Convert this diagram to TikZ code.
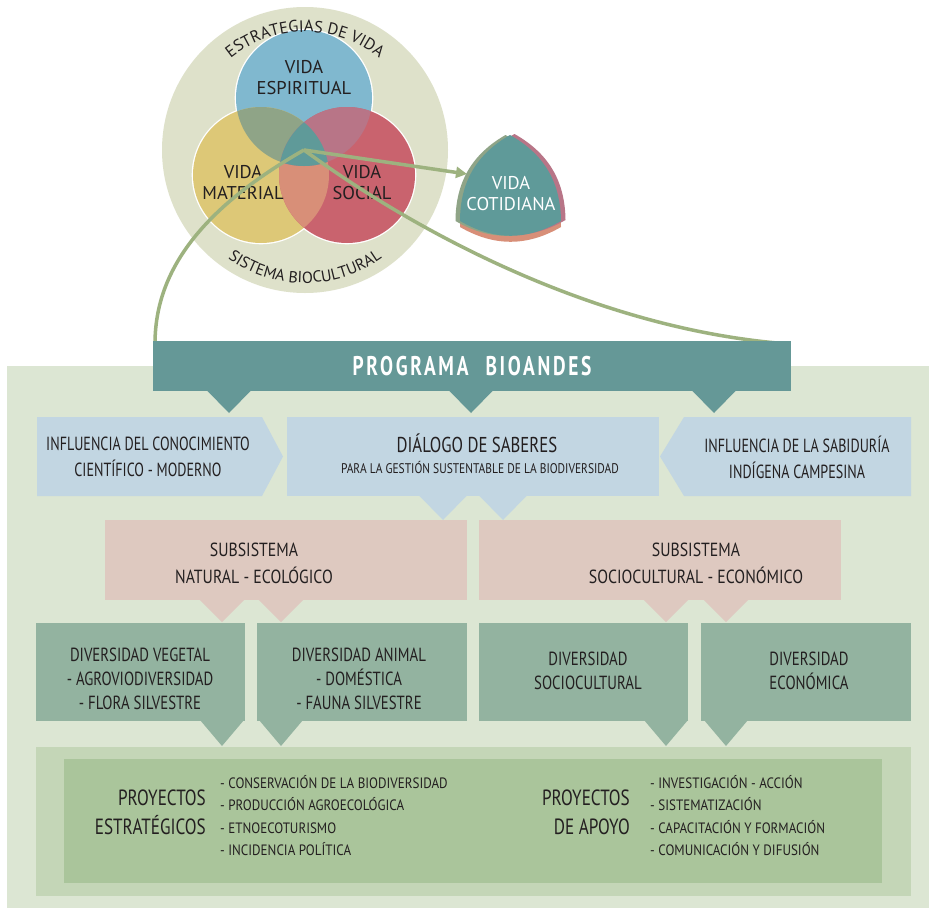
\documentclass[tikz,border=0pt]{standalone}
\usepackage{fontspec}
\setmainfont{PT Sans}
\newfontfamily\cnd[FakeStretch=0.78]{PT Sans}
\newfontfamily\cndb[FakeStretch=0.74]{PT Sans}
\newfontfamily\cndp[FakeStretch=0.83]{PT Sans}
\newfontfamily\cnds[FakeStretch=0.82]{PT Sans}
\newfontfamily\cndl[FakeStretch=0.87]{PT Sans}
\newfontfamily\barfont[FakeStretch=0.72,LetterSpace=10]{PT Sans}
\usetikzlibrary{arrows.meta,decorations.text}
\definecolor{outerc}{HTML}{DEE1CA}
\definecolor{bluec}{HTML}{80B8CF}
\definecolor{yelc}{HTML}{DDC877}
\definecolor{redc}{HTML}{C9636E}
\definecolor{byc}{HTML}{8FA487}
\definecolor{brc}{HTML}{B87587}
\definecolor{yrc}{HTML}{D88F78}
\definecolor{cc}{HTML}{5F9A99}
\definecolor{glc}{HTML}{9DB27F}
\definecolor{tealc}{HTML}{659897}
\definecolor{panelc}{HTML}{DCE6D3}
\definecolor{boxb}{HTML}{C2D6E2}
\definecolor{boxp}{HTML}{DEC9C0}
\definecolor{boxg}{HTML}{93B3A0}
\definecolor{bandc}{HTML}{C4D6B7}
\definecolor{innerc}{HTML}{AAC59B}
\definecolor{txt}{HTML}{231F20}
\begin{document}
\begin{tikzpicture}[x=1pt,y=1pt,
  gline/.style={draw=glc, line width=3.5pt},
  vlab/.style={font=\fontsize{18.5}{21}\selectfont, text=txt, align=center, inner sep=0pt},
  blab/.style={font=\cndb\fontsize{19}{26}\selectfont, text=txt, align=center, inner sep=0pt},
  plab/.style={font=\cndp\fontsize{19}{27}\selectfont, text=txt, align=center, inner sep=0pt},
  glab/.style={font=\cnd\fontsize{19}{24}\selectfont, text=txt, align=center, inner sep=0pt},
  projlab/.style={font=\cnd\fontsize{22}{29}\selectfont, text=txt, align=right, inner sep=0pt, anchor=east},
  listlab/.style={font=\cndl\fontsize{15}{22.4}\selectfont, text=txt, align=left, inner sep=0pt, anchor=west}]
\useasboundingbox (0,0) rectangle (929,-908);
\fill[white] (0,0) rectangle (929,-908);

% ---------- Venn diagram ----------
\fill[outerc] (305,-150) circle (143);
\draw[white, line width=2.6pt] (304,-98) circle (68) (261,-175) circle (68) (347,-175) circle (68);
\fill[bluec] (304,-98) circle (68);
\fill[yelc] (261,-175) circle (68);
\fill[redc] (347,-175) circle (68);
\begin{scope}
  \clip (261,-175) circle (68);
  \fill[yrc] (347,-175) circle (68);
\end{scope}
\begin{scope}
  \clip (304,-98) circle (68);
  \fill[byc] (261,-175) circle (68);
  \fill[brc] (347,-175) circle (68);
  \clip (261,-175) circle (68);
  \fill[cc] (347,-175) circle (68);
\end{scope}
\path[decorate, decoration={text along path, text align=center,
  text={|\fontsize{16.5}{16.5}\selectfont\color{txt}|ESTRATEGIAS DE VIDA}}]
  (305,-150) ++(160:118) arc[start angle=160, end angle=20, radius=118];
\path[decorate, decoration={text along path, text align=center,
  text={|\fontsize{16}{16}\selectfont\color{txt}|SISTEMA BIOCULTURAL}}]
  (305,-150) ++(205:133) arc[start angle=205, end angle=335, radius=133];
\node[vlab] (esp) at (304,-77.5) {VIDA\\ESPIRITUAL};
\node[vlab] (mat) at (243,-182.5) {VIDA\\MATERIAL};
\node[vlab] (soc) at (362,-182.5) {VIDA\\SOCIAL};

% ---------- Vida cotidiana ----------
\def\cotpath{(510,-135) to[bend right=30] (460,-221) to[bend right=30] (561,-221) to[bend right=30] (510,-135) -- cycle}
\fill[yrc, shift={(0,-6)}] \cotpath;
\fill[byc, shift={(-4.5,0)}] \cotpath;
\fill[brc, shift={(4.5,1)}] \cotpath;
\fill[cc] \cotpath;
\node[vlab, text=white] (cot) at (511,-193.5) {VIDA\\COTIDIANA};

% ---------- connectors ----------
\coordinate (vc) at (304,-150);
\coordinate (cotin) at (467,-174);
\coordinate (barNW) at (155,-344);
\coordinate (barNE) at (789,-344);
\draw[gline] (vc) .. controls (190,-215) and (155,-280) .. (barNW);
\draw[gline] (vc) .. controls (420,-235) and (600,-330) .. (barNE);
\draw[gline, -{Triangle[length=11pt,width=11pt]}] (vc) -- (cotin);

% ---------- lower panel ----------
\fill[panelc] (7,-366) rectangle (929,-908);
\node[fill=tealc, minimum width=638pt, minimum height=50pt, inner sep=0pt,
  text=white, font=\barfont\bfseries\fontsize{27}{27}\selectfont] (bar) at (472,-366) {PROGRAMA\hspace{17pt}BIOANDES};
\foreach \t in {229,471,714}
  \fill[tealc] (\t-22.5,-390) -- (\t,-413) -- (\t+22.5,-390) -- cycle;

% blue row
\fill[boxb] (37,-417) -- (262,-417) -- (283,-456.5) -- (262,-496) -- (37,-496) -- cycle;
\fill[boxb] (287,-417) rectangle (659,-496);
\foreach \t in {443,503}
  \fill[boxb] (\t-24.5,-495) -- (\t,-520) -- (\t+24.5,-495) -- cycle;
\fill[boxb] (684,-417) -- (911,-417) -- (911,-496) -- (684,-496) -- (660,-456.5) -- cycle;
\node[blab] (inf1) at (148,-457) {INFLUENCIA DEL CONOCIMIENTO\\CIENTÍFICO - MODERNO};
\node[blab, font=\cnd\fontsize{21.5}{21.5}\selectfont, anchor=base] (dia) at (477,-452.5) {DIÁLOGO DE SABERES};
\node[blab, font=\cnds\fontsize{14}{14}\selectfont, anchor=base] (dia2) at (480,-473.6) {PARA LA GESTIÓN SUSTENTABLE DE LA BIODIVERSIDAD};
\node[blab] (inf2) at (797,-457) {INFLUENCIA DE LA SABIDURÍA\\INDÍGENA CAMPESINA};

% pink row
\fill[boxp] (105,-520) rectangle (467,-600);
\fill[boxp] (479,-520) rectangle (841,-600);
\foreach \t in {222,281,666,726}
  \fill[boxp] (\t-23,-599) -- (\t,-622) -- (\t+23,-599) -- cycle;
\node[plab] (sub1) at (254,-563.5) {SUBSISTEMA\\NATURAL - ECOLÓGICO};
\node[plab] (sub2) at (696,-563.5) {SUBSISTEMA\\SOCIOCULTURAL - ECONÓMICO};

% band
\fill[bandc] (36,-747) rectangle (911,-896);
\fill[innerc] (64,-759) rectangle (882,-883);

% green row
\fill[boxg] (36,-623) rectangle (245,-721);
\fill[boxg] (257,-623) rectangle (467,-721);
\fill[boxg] (479,-623) rectangle (688,-721);
\fill[boxg] (701,-623) rectangle (911,-721);
\foreach \t in {222,281,666,726}
  \fill[boxg] (\t-22,-720) -- (\t,-746) -- (\t+22,-720) -- cycle;
\node[glab] (dv1) at (140,-679) {DIVERSIDAD VEGETAL\\- AGROVIODIVERSIDAD\\- FLORA SILVESTRE};
\node[glab] (dv2) at (359,-679) {DIVERSIDAD ANIMAL\\- DOMÉSTICA\\- FAUNA SILVESTRE};
\node[glab] (dv3) at (588,-670.5) {DIVERSIDAD\\SOCIOCULTURAL};
\node[glab] (dv4) at (809,-670.5) {DIVERSIDAD\\ECONÓMICA};

% projects
\node[projlab] (pe) at (206,-812.5) {PROYECTOS\\ESTRATÉGICOS};
\node[listlab] (pel) at (220,-815.5) {- CONSERVACIÓN DE LA BIODIVERSIDAD\\- PRODUCCIÓN AGROECOLÓGICA\\- ETNOECOTURISMO\\- INCIDENCIA POLÍTICA};
\node[projlab] (pa) at (630,-812.5) {PROYECTOS\\DE APOYO};
\node[listlab] (pal) at (650,-815.5) {- INVESTIGACIÓN - ACCIÓN\\- SISTEMATIZACIÓN\\- CAPACITACIÓN Y FORMACIÓN\\- COMUNICACIÓN Y DIFUSIÓN};
\end{tikzpicture}
\end{document}
